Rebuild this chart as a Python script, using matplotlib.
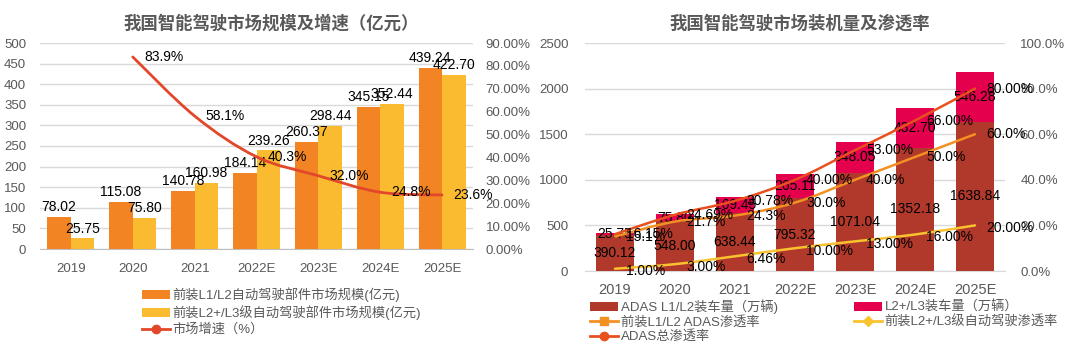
import matplotlib
matplotlib.use("Agg")
import matplotlib.pyplot as plt
from matplotlib.path import Path
from matplotlib.patches import PathPatch, Patch
from matplotlib.lines import Line2D
from matplotlib.ticker import FuncFormatter, MultipleLocator

plt.rcParams['font.family'] = ['Liberation Sans', 'Noto Sans CJK SC', 'DejaVu Sans']

# ---------------- data ----------------
years = ['2019', '2020', '2021', '2022E', '2023E', '2024E', '2025E']

# left chart: market size (亿元) and growth
l1l2_market = [78.02, 115.08, 140.78, 184.14, 260.37, 345.15, 439.24]
l2l3_market = [25.75, 75.80, 160.98, 239.26, 298.44, 352.44, 422.70]
growth_years_idx = [1, 2, 3, 4, 5, 6]
growth_rate = [83.9, 58.1, 40.3, 32.0, 24.8, 23.6]

# right chart: installations (万辆) and penetration
adas_l1l2_units = [390.12, 548.00, 638.44, 795.32, 1071.04, 1352.18, 1638.84]
l2l3_units = [25.75, 75.80, 169.45, 265.11, 348.05, 432.70, 546.28]
pen_l1l2 = [15.1, 21.7, 24.3, 30.0, 40.0, 50.0, 60.0]
pen_l2l3 = [1.00, 3.00, 6.46, 10.00, 13.00, 16.00, 20.00]
pen_total = [16.15, 24.69, 30.78, 40.00, 53.00, 66.00, 80.00]

# ---------------- styles ----------------
GRAY = '#595959'
GRID = '#D9D9D9'
C_ORANGE = '#F28423'
C_YELLOW = '#FBBB30'
C_LINE = '#E2472A'
C_DARKRED = '#B0392B'
C_CRIMSON = '#E5004E'
C_TOTAL = '#E8501E'
C_PL1 = '#F39022'
C_PL2 = '#F9C22E'


def smooth_line(ax, xs, ys, color, lw=2.0, zorder=5):
    """Draw an Excel-like smoothed line through the data points as a bezier path."""
    pts = list(zip(xs, ys))
    verts = [pts[0]]
    codes = [Path.MOVETO]
    n = len(pts)
    for i in range(n - 1):
        p0 = pts[i - 1] if i > 0 else pts[i]
        p1 = pts[i]
        p2 = pts[i + 1]
        p3 = pts[i + 2] if i + 2 < n else pts[i + 1]
        c1 = (p1[0] + (p2[0] - p0[0]) / 6.0, p1[1] + (p2[1] - p0[1]) / 6.0)
        c2 = (p2[0] - (p3[0] - p1[0]) / 6.0, p2[1] - (p3[1] - p1[1]) / 6.0)
        verts += [c1, c2, p2]
        codes += [Path.CURVE4] * 3
    patch = PathPatch(Path(verts, codes), facecolor='none', edgecolor=color,
                      lw=lw, zorder=zorder, capstyle='round', joinstyle='round')
    ax.add_patch(patch)


fig = plt.figure(figsize=(10.8, 3.46), dpi=100)
fig.patch.set_facecolor('white')

# =============== LEFT CHART ===============
axL = fig.add_axes([40 / 1080, 1 - 249 / 346, 433 / 1080, 206 / 346])
x = list(range(len(years)))
w = 0.38
xo = [i - w / 2 for i in x]
xy = [i + w / 2 for i in x]
axL.bar(xo, l1l2_market, width=w, color=C_ORANGE, zorder=3)
axL.bar(xy, l2l3_market, width=w, color=C_YELLOW, zorder=3)
axL.set_xlim(-0.5, len(years) - 0.5)
axL.set_ylim(0, 500)
axL.yaxis.set_major_locator(MultipleLocator(50))
axL.grid(axis='y', color=GRID, lw=1, zorder=0)
for s in ['top', 'right', 'left']:
    axL.spines[s].set_visible(False)
axL.spines['bottom'].set_color('#BFBFBF')
axL.set_xticks(x)
axL.set_xticklabels(years)
axL.tick_params(axis='both', length=0, labelsize=9.5, colors=GRAY)
axL.tick_params(axis='y', pad=10)
axL.tick_params(axis='x', pad=10)
for xi, v in zip(xo, l1l2_market):
    axL.annotate(f'{v:.2f}', (xi, v), xytext=(0, 2), textcoords='offset points',
                 ha='center', va='bottom', fontsize=10, color='black', zorder=6)
for xi, v in zip(xy, l2l3_market):
    axL.annotate(f'{v:.2f}', (xi, v), xytext=(0, 2), textcoords='offset points',
                 ha='center', va='bottom', fontsize=10, color='black', zorder=6)

axL2 = axL.twinx()
axL2.set_ylim(0, 90)
axL2.yaxis.set_major_locator(MultipleLocator(10))
axL2.yaxis.set_major_formatter(FuncFormatter(lambda v, p: f'{v:.2f}%'))
axL2.tick_params(axis='y', length=0, labelsize=9.5, colors=GRAY, pad=9)
for s in ['top', 'right', 'left', 'bottom']:
    axL2.spines[s].set_visible(False)
smooth_line(axL2, growth_years_idx, growth_rate, C_LINE, lw=2.0)
for xi, v in zip(growth_years_idx, growth_rate):
    axL2.annotate(f'{v:.1f}%', (xi, v), xytext=(8, 0), textcoords='offset points',
                  ha='left', va='center', fontsize=10, color='black', zorder=7)

fig.text(271 / 1080, 1 - 23 / 346, '我国智能驾驶市场规模及增速（亿元）', ha='center', va='center',
         fontsize=12.5, fontweight='bold', color=GRAY)

hL = [Patch(facecolor=C_ORANGE), Patch(facecolor=C_YELLOW),
      Line2D([0], [0], color=C_LINE, lw=2, marker='o', markersize=6,
             markerfacecolor=C_LINE, markeredgecolor=C_LINE)]
lL = ['前装L1/L2自动驾驶部件市场规模(亿元)', '前装L2+/L3级自动驾驶部件市场规模(亿元)', '市场增速（%）']
fig.legend(hL, lL, loc='upper left', bbox_to_anchor=(133 / 1080, 1 - 278 / 346),
           frameon=False, fontsize=9.5, labelcolor=GRAY, handlelength=2.1,
           handleheight=0.6, handletextpad=0.2, labelspacing=0.25, borderpad=0.2)

# =============== RIGHT CHART ===============
axR = fig.add_axes([585 / 1080, 1 - 271 / 346, 420 / 1080, 228 / 346])
wr = 0.63
axR.bar(x, adas_l1l2_units, width=wr, color=C_DARKRED, zorder=3)
axR.bar(x, l2l3_units, width=wr, bottom=adas_l1l2_units, color=C_CRIMSON, zorder=3)
axR.set_xlim(-0.5, len(years) - 0.5)
axR.set_ylim(0, 2500)
axR.yaxis.set_major_locator(MultipleLocator(500))
axR.grid(axis='y', color=GRID, lw=1, zorder=0)
for s in ['top', 'right', 'left']:
    axR.spines[s].set_visible(False)
axR.spines['bottom'].set_color('#D9D9D9')
axR.set_xticks(x)
axR.set_xticklabels(years)
axR.tick_params(axis='x', length=0, labelsize=10.5, colors=GRAY, pad=9)
axR.tick_params(axis='y', length=0, labelsize=9.5, colors=GRAY, pad=12)
for xi, a, b in zip(x, adas_l1l2_units, l2l3_units):
    axR.text(xi, a / 2, f'{a:.2f}', ha='center', va='center', fontsize=10,
             color='black', zorder=6)
    axR.text(xi, a + b / 2, f'{b:.2f}', ha='center', va='center', fontsize=10,
             color='black', zorder=6)

axR2 = axR.twinx()
axR2.set_ylim(0, 100)
axR2.yaxis.set_major_locator(MultipleLocator(20))
axR2.yaxis.set_major_formatter(FuncFormatter(lambda v, p: f'{v:.1f}%'))
axR2.tick_params(axis='y', length=0, labelsize=9.5, colors=GRAY, pad=11)
for s in ['top', 'right', 'left', 'bottom']:
    axR2.spines[s].set_visible(False)
smooth_line(axR2, x, pen_total, C_TOTAL, lw=1.8)
smooth_line(axR2, x, pen_l1l2, C_PL1, lw=1.8)
smooth_line(axR2, x, pen_l2l3, C_PL2, lw=1.8)
for xi, v in zip(x, pen_total):
    axR2.annotate(f'{v:.2f}%', (xi, v), xytext=(8, 0), textcoords='offset points',
                  ha='left', va='center', fontsize=10, color='black', zorder=7)
for xi, v in zip(x, pen_l1l2):
    axR2.annotate(f'{v:.1f}%', (xi, v), xytext=(8, 0), textcoords='offset points',
                  ha='left', va='center', fontsize=10, color='black', zorder=7)
for xi, v in zip(x, pen_l2l3):
    axR2.annotate(f'{v:.2f}%', (xi, v), xytext=(8, -2), textcoords='offset points',
                  ha='left', va='center', fontsize=10, color='black', zorder=7)

fig.text(800 / 1080, 1 - 23 / 346, '我国智能驾驶市场装机量及渗透率', ha='center', va='center',
         fontsize=12.5, fontweight='bold', color=GRAY)

hR = [Patch(facecolor=C_DARKRED),
      Line2D([0], [0], color=C_PL1, lw=2, marker='s', markersize=6,
             markerfacecolor=C_PL1, markeredgecolor=C_PL1),
      Line2D([0], [0], color=C_TOTAL, lw=2, marker='o', markersize=6,
             markerfacecolor=C_TOTAL, markeredgecolor=C_TOTAL),
      Patch(facecolor=C_CRIMSON),
      Line2D([0], [0], color=C_PL2, lw=2, marker='D', markersize=5,
             markerfacecolor=C_PL2, markeredgecolor=C_PL2)]
lR = ['ADAS L1/L2装车量（万辆)', '前装L1/L2 ADAS渗透率', 'ADAS总渗透率',
      'L2+/L3装车量（万辆）', '前装L2+/L3级自动驾驶渗透率']
fig.legend(hR, lR, loc='upper left', bbox_to_anchor=(581 / 1080, 1 - 290 / 346),
           ncol=2, frameon=False, fontsize=9.5, labelcolor=GRAY, handlelength=2.1,
           handleheight=0.6, handletextpad=0.2, labelspacing=0.12, columnspacing=5.8,
           borderpad=0.2)

fig.savefig('out.png', dpi=100, facecolor='white')
